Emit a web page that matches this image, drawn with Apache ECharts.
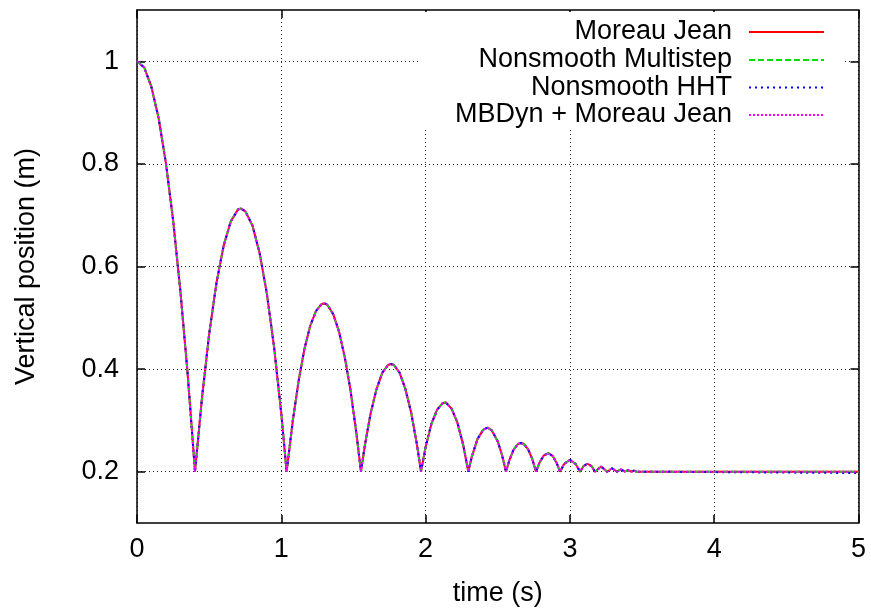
<!DOCTYPE html>
<html>
<head>
<meta charset="utf-8">
<title>Bouncing ball – vertical position</title>
<script src="https://cdn.jsdelivr.net/npm/echarts@6/dist/echarts.min.js"></script>
<style>
  html, body { margin: 0; padding: 0; background: #fff; }
  #chart { width: 871px; height: 613px; }
</style>
</head>
<body>
<div id="chart"></div>
<script>
// Bounce phase, shared by all four integrators (the curves coincide there)
const bounceTime = [
  0, 0.05, 0.1, 0.15, 0.2, 0.25, 0.3, 0.35, 0.402,
  0.45, 0.5, 0.55, 0.6, 0.65, 0.7, 0.72, 0.75, 0.8, 0.85, 0.9, 0.95, 1.0, 1.037,
  1.08, 1.12, 1.16, 1.2, 1.24, 1.28, 1.3, 1.32, 1.36, 1.4, 1.44, 1.48, 1.52, 1.552,
  1.58, 1.62, 1.66, 1.7, 1.74, 1.76, 1.78, 1.82, 1.86, 1.9, 1.94, 1.968,
  2.0, 2.04, 2.08, 2.12, 2.14, 2.18, 2.22, 2.26, 2.296,
  2.32, 2.36, 2.40, 2.43, 2.46, 2.50, 2.53, 2.557,
  2.58, 2.61, 2.64, 2.66, 2.68, 2.71, 2.74, 2.765,
  2.79, 2.82, 2.85, 2.88, 2.91, 2.931,
  2.96, 3.0, 3.04, 3.07,
  3.095, 3.122, 3.15, 3.174,
  3.216, 3.258,
  3.292, 3.326,
  3.354, 3.381,
  3.404, 3.426,
  3.444, 3.462
];
const bouncePosition = [
  1, 0.988, 0.950, 0.889, 0.802, 0.691, 0.554, 0.394, 0.2,
  0.343, 0.468, 0.567, 0.640, 0.688, 0.711, 0.713, 0.708, 0.680, 0.626, 0.547, 0.443, 0.313, 0.2,
  0.300, 0.377, 0.439, 0.484, 0.513, 0.527, 0.528, 0.525, 0.507, 0.473, 0.423, 0.358, 0.276, 0.2,
  0.253, 0.315, 0.361, 0.393, 0.408, 0.410, 0.408, 0.393, 0.361, 0.315, 0.253, 0.2,
  0.248, 0.293, 0.321, 0.334, 0.335, 0.323, 0.296, 0.253, 0.2,
  0.229, 0.264, 0.282, 0.286, 0.280, 0.259, 0.232, 0.2,
  0.222, 0.243, 0.254, 0.256, 0.254, 0.244, 0.224, 0.2,
  0.218, 0.232, 0.236, 0.231, 0.216, 0.2,
  0.215, 0.223, 0.215, 0.2,
  0.211, 0.2155, 0.211, 0.2,
  0.210, 0.2,
  0.2067, 0.2,
  0.2044, 0.2,
  0.2029, 0.2,
  0.202, 0.2
];

// Resting phase, per integrator
const tailTime = [3.5, 4.0, 4.5, 5.0];
const tailMoreauJean = [0.2, 0.2, 0.2, 0.2];
const tailMultistep = [0.2, 0.2, 0.2, 0.2];
const tailHHT = [0.2, 0.1992, 0.1983, 0.1974];
const tailMBDyn = [0.2, 0.2, 0.2, 0.2];

const seriesNames = ['Moreau Jean', 'Nonsmooth Multistep', 'Nonsmooth HHT', 'MBDyn + Moreau Jean'];
const xTicks = [0, 1, 2, 3, 4, 5];
const yTicks = [0.2, 0.4, 0.6, 0.8, 1];

function pairs(tail) {
  const t = bounceTime.concat(tailTime);
  const y = bouncePosition.concat(tail);
  return t.map((v, i) => [v, y[i]]);
}

const FONT = "'Liberation Sans', Arial, Helvetica, sans-serif";
const styles = [
  { color: '#ff0000', type: 'solid' },
  { color: '#00e000', type: [6, 3] },
  { color: '#0000ff', type: [2, 4] },
  { color: '#ff00ff', type: [2, 2] }
];
const tails = [tailMoreauJean, tailMultistep, tailHHT, tailMBDyn];

const chart = echarts.init(document.getElementById('chart'), null, { renderer: 'canvas' });

const rowCenters = [32, 60, 87.5, 115];

const option = {
  animation: false,
  backgroundColor: '#ffffff',
  textStyle: { fontFamily: FONT },
  grid: { left: 137, right: 12.5, top: 10, bottom: 90, outerBoundsMode: 'none' },
  graphic: [{
    type: 'rect',
    z: 1,
    shape: { x: 418, y: 12, width: 424, height: 116 },
    style: { fill: '#ffffff' },
    silent: true
  }],
  legend: seriesNames.map((name, i) => ({
    data: [name],
    orient: 'vertical',
    right: 46,
    top: rowCenters[i] - 14,
    padding: 0,
    align: 'right',
    itemWidth: 75,
    itemHeight: 14,
    selectedMode: false,
    // key sample shows only the line, no point marker
    itemStyle: { opacity: 0 },
    lineStyle: { width: 2 },
    textStyle: {
      fontFamily: FONT, fontSize: 27, color: '#000', lineHeight: 28,
      padding: [0, 12, 0, 0]
    }
  })),
  xAxis: [{
    type: 'value',
    min: 0, max: 5, interval: 1,
    position: 'bottom',
    name: 'time (s)',
    nameLocation: 'middle',
    nameGap: 57,
    nameTextStyle: { fontFamily: FONT, fontSize: 27, color: '#000' },
    axisLine: { show: true, onZero: false, lineStyle: { color: '#000', width: 1.5 } },
    axisTick: { show: true, inside: true, length: 8, lineStyle: { color: '#000', width: 1.5 } },
    axisLabel: { fontFamily: FONT, fontSize: 27, color: '#000', margin: 13, formatter: v => String(v) },
    splitLine: { show: true, lineStyle: { color: '#222', width: 1, type: [1, 3] } }
  }, {
    type: 'value',
    min: 0, max: 5, interval: 1,
    position: 'top',
    axisLine: { show: true, onZero: false, lineStyle: { color: '#000', width: 1.5 } },
    axisTick: { show: true, inside: true, length: 8, lineStyle: { color: '#000', width: 1.5 } },
    axisLabel: { show: false },
    splitLine: { show: false }
  }],
  yAxis: [{
    type: 'value',
    min: 0.1, max: 1.1,
    position: 'left',
    name: 'Vertical position (m)',
    nameLocation: 'middle',
    nameRotate: 90,
    nameGap: 97,
    nameTextStyle: { fontFamily: FONT, fontSize: 27, color: '#000' },
    axisLine: { show: true, onZero: false, lineStyle: { color: '#000', width: 1.5 } },
    axisTick: { show: true, inside: true, length: 8, customValues: yTicks, lineStyle: { color: '#000', width: 1.5 } },
    axisLabel: { fontFamily: FONT, fontSize: 27, color: '#000', margin: 18, customValues: yTicks,
      formatter: v => String(Math.round(v * 10) / 10) },
    splitLine: { show: true, lineStyle: { color: '#222', width: 1, type: [1, 3] } }
  }, {
    type: 'value',
    min: 0.1, max: 1.1,
    position: 'right',
    axisLine: { show: true, onZero: false, lineStyle: { color: '#000', width: 1.5 } },
    axisTick: { show: true, inside: true, length: 8, customValues: yTicks, lineStyle: { color: '#000', width: 1.5 } },
    axisLabel: { show: false },
    splitLine: { show: false }
  }],
  series: seriesNames.map((name, i) => ({
    name,
    type: 'line',
    xAxisIndex: 0,
    yAxisIndex: 0,
    data: pairs(tails[i]),
    symbol: 'none',
    smooth: false,
    z: 2 + i,
    lineStyle: { color: styles[i].color, width: 2, type: styles[i].type },
    itemStyle: { color: styles[i].color },
    emphasis: { disabled: true }
  }))
};

chart.setOption(option);
</script>
</body>
</html>
